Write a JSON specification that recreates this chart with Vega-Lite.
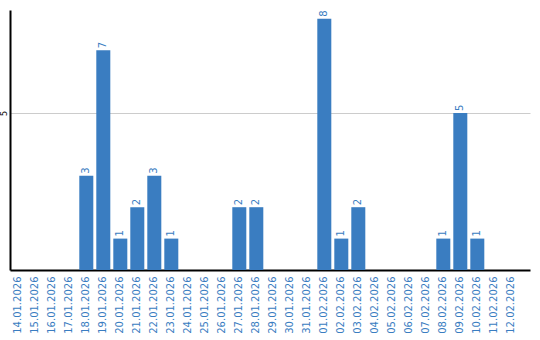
{
  "$schema": "https://vega.github.io/schema/vega-lite/v6.json",
  "width": 520,
  "height": 260,
  "padding": {"left": 0, "top": 10, "right": 10, "bottom": 0},
  "background": "white",
  "config": {"view": {"stroke": null}, "font": "DejaVu Sans"},
  "data": {"values": [
    {"d": "14.01.2026", "v": 0}, {"d": "15.01.2026", "v": 0}, {"d": "16.01.2026", "v": 0},
    {"d": "17.01.2026", "v": 0}, {"d": "18.01.2026", "v": 3}, {"d": "19.01.2026", "v": 7},
    {"d": "20.01.2026", "v": 1}, {"d": "21.01.2026", "v": 2}, {"d": "22.01.2026", "v": 3},
    {"d": "23.01.2026", "v": 1}, {"d": "24.01.2026", "v": 0}, {"d": "25.01.2026", "v": 0},
    {"d": "26.01.2026", "v": 0}, {"d": "27.01.2026", "v": 2}, {"d": "28.01.2026", "v": 2},
    {"d": "29.01.2026", "v": 0}, {"d": "30.01.2026", "v": 0}, {"d": "31.01.2026", "v": 0},
    {"d": "01.02.2026", "v": 8}, {"d": "02.02.2026", "v": 1}, {"d": "03.02.2026", "v": 2},
    {"d": "04.02.2026", "v": 0}, {"d": "05.02.2026", "v": 0}, {"d": "06.02.2026", "v": 0},
    {"d": "07.02.2026", "v": 0}, {"d": "08.02.2026", "v": 1}, {"d": "09.02.2026", "v": 5},
    {"d": "10.02.2026", "v": 1}, {"d": "11.02.2026", "v": 0}, {"d": "12.02.2026", "v": 0}
  ]},
  "encoding": {
    "x": {
      "field": "d", "type": "ordinal", "sort": null, "title": null,
      "scale": {"paddingInner": 0.176, "paddingOuter": 0.382, "align": 0.1},
      "axis": {"labelAngle": -90, "labelColor": "#3a7dc1", "labelFontSize": 10, "ticks": false,
               "labelPadding": 6, "domainColor": "black", "domainWidth": 2}
    },
    "y": {
      "field": "v", "type": "quantitative", "title": null,
      "scale": {"domain": [0, 8.28], "nice": false},
      "axis": {"values": [5], "grid": true, "gridColor": "#cccccc", "ticks": false,
               "labelAngle": -90, "labelFontSize": 8, "labelColor": "black",
               "labelPadding": 2, "domainColor": "black", "domainWidth": 2}
    }
  },
  "layer": [
    {"mark": {"type": "bar", "color": "#3a7dc1"}},
    {
      "transform": [{"filter": "datum.v > 0"}],
      "mark": {"type": "text", "angle": -90, "align": "left", "baseline": "middle", "dx": 2,
               "color": "#3a7dc1", "fontSize": 10},
      "encoding": {"text": {"field": "v", "type": "quantitative"}}
    }
  ]
}
